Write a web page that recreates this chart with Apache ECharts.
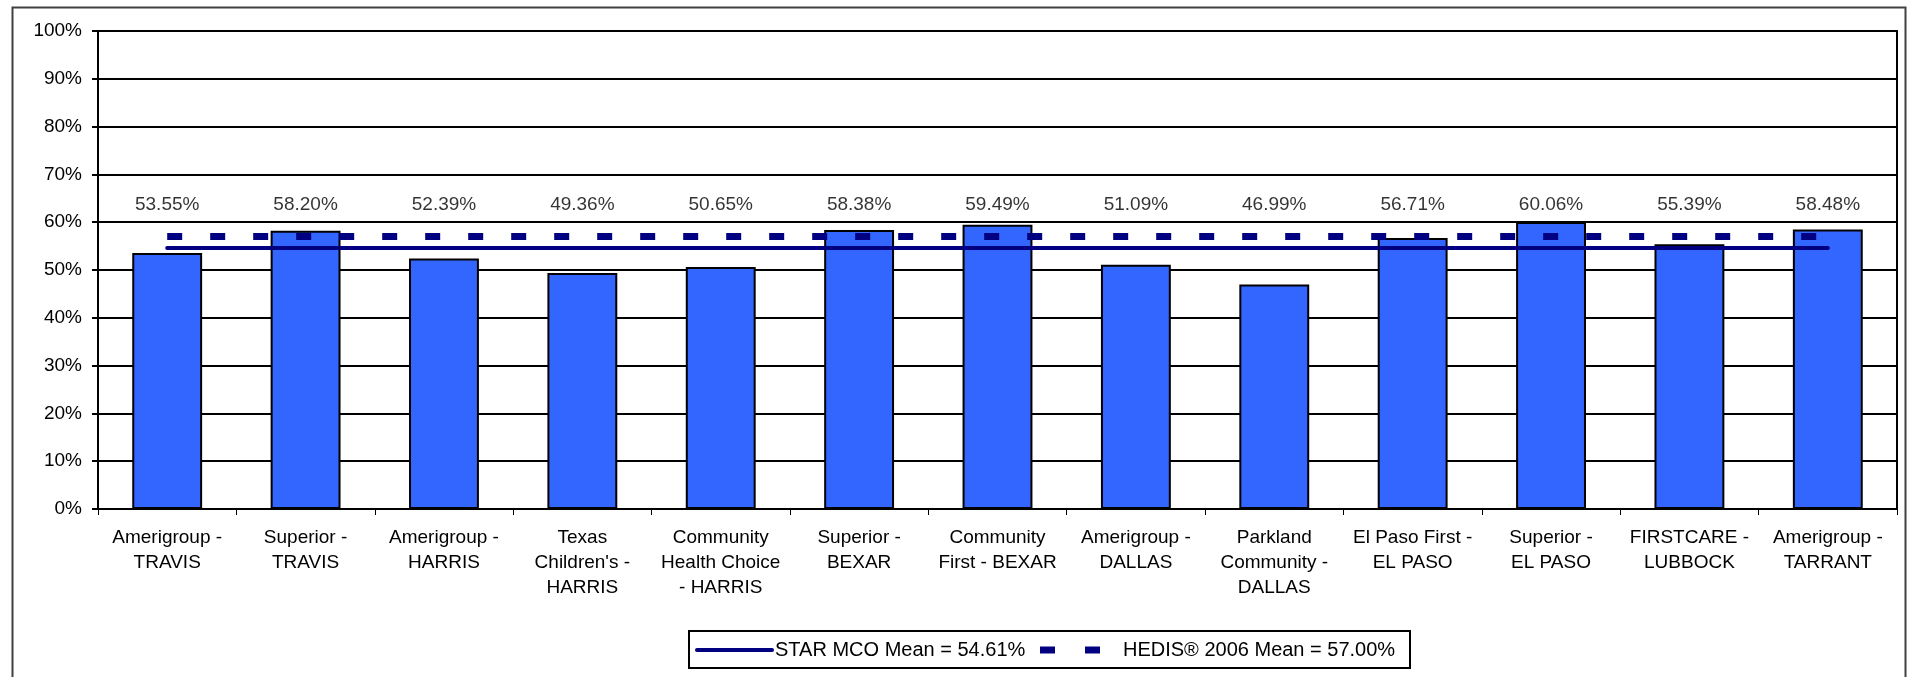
<!DOCTYPE html>
<html>
<head>
<meta charset="utf-8">
<script src="https://cdn.jsdelivr.net/npm/echarts@6/dist/echarts.min.js"></script>
<style>
html,body{margin:0;padding:0;background:#fff;}
#chart{width:1909px;height:677px;}
</style>
</head>
<body>
<div id="chart"></div>
<script>
// ---- data ----
const CATEGORIES = [
  "Amerigroup -\nTRAVIS",
  "Superior -\nTRAVIS",
  "Amerigroup -\nHARRIS",
  "Texas\nChildren's -\nHARRIS",
  "Community\nHealth Choice\n- HARRIS",
  "Superior -\nBEXAR",
  "Community\nFirst - BEXAR",
  "Amerigroup -\nDALLAS",
  "Parkland\nCommunity -\nDALLAS",
  "El Paso First -\nEL PASO",
  "Superior -\nEL PASO",
  "FIRSTCARE -\nLUBBOCK",
  "Amerigroup -\nTARRANT"
];
const VALUES = [53.55, 58.20, 52.39, 49.36, 50.65, 58.38, 59.49, 51.09, 46.99, 56.71, 60.06, 55.39, 58.48];
const STAR_MEAN = 54.61;
const HEDIS_MEAN = 57.00;
const STAR_NAME = "STAR MCO Mean";
const HEDIS_NAME = "HEDIS® 2006 Mean";
const Y_TICKS = [0, 10, 20, 30, 40, 50, 60, 70, 80, 90, 100];

// ---- layout/style ----
const FONT = "'Liberation Sans', Arial, sans-serif";
const NAVY = "#000080";
const LABEL_LEVEL = 63.6; // vertical level where value labels sit

const chart = echarts.init(document.getElementById('chart'), null, {renderer: 'canvas'});
const last = CATEGORIES.length - 1;

const option = {
  backgroundColor: '#fff',
  animation: false,
  textStyle: {fontFamily: FONT},
  grid: {left: 98, right: 12, top: 31, bottom: 168, show: true, borderColor: '#000', borderWidth: 2, backgroundColor: 'transparent'},
  xAxis: {
    type: 'category',
    data: CATEGORIES,
    boundaryGap: true,
    axisLine: {lineStyle: {color: '#000', width: 2}},
    axisTick: {show: true, length: 6, alignWithLabel: false, lineStyle: {color: '#000', width: 1}},
    axisLabel: {interval: 0, color: '#000', fontSize: 19, lineHeight: 25, margin: 16, fontFamily: FONT, align: 'center'}
  },
  yAxis: {
    type: 'value',
    min: Y_TICKS[0],
    max: Y_TICKS[Y_TICKS.length - 1],
    interval: Y_TICKS[1] - Y_TICKS[0],
    axisLine: {show: true, lineStyle: {color: '#000', width: 2}},
    axisTick: {show: true, length: 6, lineStyle: {color: '#000', width: 2}},
    axisLabel: {color: '#000', fontSize: 19, margin: 16, fontFamily: FONT, formatter: '{value}%'},
    splitLine: {show: true, lineStyle: {color: '#000', width: 2}}
  },
  series: [
    {
      name: 'Rate',
      type: 'bar',
      data: VALUES,
      barWidth: '50.5%',
      itemStyle: {color: '#3366FF', borderColor: '#000', borderWidth: 2},
      z: 2
    },
    {
      name: 'labels',
      type: 'scatter',
      data: VALUES.map((v, i) => [i, LABEL_LEVEL]),
      symbolSize: 0,
      silent: true,
      label: {
        show: true, position: 'inside', color: '#000', fontSize: 19, fontFamily: FONT,
        formatter: p => VALUES[p.dataIndex].toFixed(2) + '%'
      },
      z: 5
    },
    {
      name: HEDIS_NAME,
      type: 'line',
      data: [],
      markLine: {
        silent: true,
        symbol: 'none',
        label: {show: false},
        lineStyle: {color: NAVY, width: 7, type: [15, 28], cap: 'butt'},
        data: [[{xAxis: 0, yAxis: HEDIS_MEAN}, {xAxis: last, yAxis: HEDIS_MEAN}]]
      },
      z: 4
    },
    {
      name: STAR_NAME,
      type: 'line',
      data: [],
      markLine: {
        silent: true,
        symbol: 'none',
        label: {show: false},
        lineStyle: {color: NAVY, width: 4, type: 'solid', cap: 'round'},
        data: [[{xAxis: 0, yAxis: STAR_MEAN}, {xAxis: last, yAxis: STAR_MEAN}]]
      },
      z: 4
    }
  ],
  graphic: [
    // outer chart border
    {type: 'rect', left: 10, top: 5, shape: {x: 0, y: 0, width: 1893, height: 680}, style: {fill: 'none', stroke: '#404040', lineWidth: 2}, silent: true, z: 0},
    // legend box
    {type: 'rect', shape: {x: 689, y: 631, width: 721, height: 37}, style: {fill: '#fff', stroke: '#000', lineWidth: 2}, silent: true, z: 10},
    {type: 'line', shape: {x1: 697, y1: 650, x2: 772, y2: 650}, style: {stroke: NAVY, lineWidth: 4, lineCap: 'round'}, silent: true, z: 11},
    {type: 'text', x: 775, y: 650, style: {text: STAR_NAME + ' = ' + STAR_MEAN.toFixed(2) + '%', fill: '#000', font: '20px ' + FONT, textVerticalAlign: 'middle', textAlign: 'left'}, silent: true, z: 11},
    {type: 'rect', shape: {x: 1040, y: 646.5, width: 15, height: 7}, style: {fill: NAVY}, silent: true, z: 11},
    {type: 'rect', shape: {x: 1085, y: 646.5, width: 15, height: 7}, style: {fill: NAVY}, silent: true, z: 11},
    {type: 'text', x: 1123, y: 650, style: {text: HEDIS_NAME + ' = ' + HEDIS_MEAN.toFixed(2) + '%', fill: '#000', font: '20px ' + FONT, textVerticalAlign: 'middle', textAlign: 'left'}, silent: true, z: 11}
  ]
};
chart.setOption(option);
</script>
</body>
</html>
